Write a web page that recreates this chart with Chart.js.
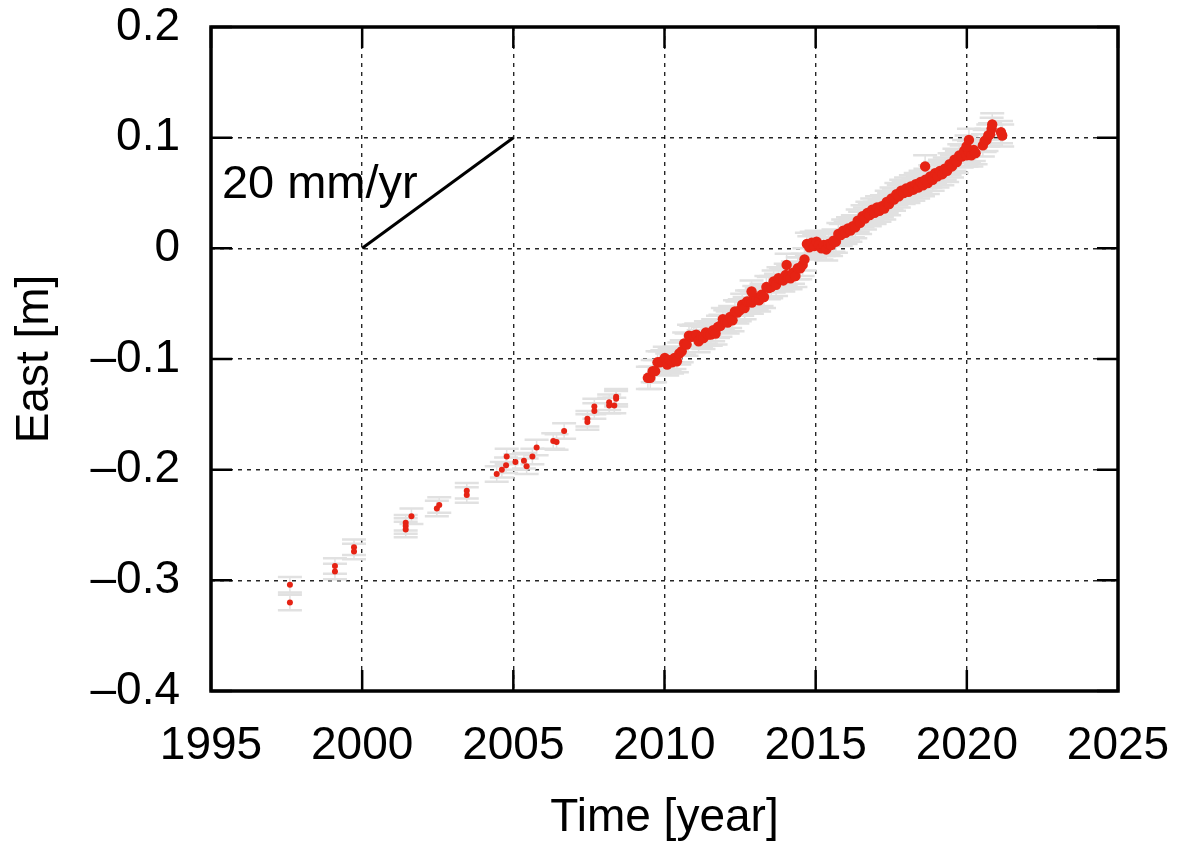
<!DOCTYPE html>
<html><head><meta charset="utf-8">
<script src="https://cdn.jsdelivr.net/npm/chart.js@4.4.0/dist/chart.umd.min.js"></script>
<style>html,body{margin:0;padding:0;background:#fff}#wrap{width:1189px;height:843px}</style>
</head><body><div id="wrap"><canvas id="c" width="1189" height="843"></canvas></div>
<script>
// ---------- data ----------
const xTickValues = [1995, 2000, 2005, 2010, 2015, 2020, 2025];
const yTickValues = [-0.4, -0.3, -0.2, -0.1, 0, 0.1, 0.2];

const sparseYears = [1997.61,1997.61,1999.10,1999.10,1999.73,1999.73,2001.44,2001.44,2001.44,2001.63,
  2002.47,2002.55,2003.46,2003.46,2004.45,2004.62,2004.76,2004.78,2005.07,2005.35,2005.44,2005.63,2005.77,
  2006.32,2006.43,2006.68,2007.45,2007.45,2007.68,2007.68,2008.17,2008.17,2008.34,2008.40,2008.40];
const sparseEast = [-0.304,-0.320,-0.287,-0.292,-0.270,-0.274,-0.248,-0.251,-0.254,-0.242,
  -0.235,-0.232,-0.219,-0.223,-0.204,-0.200,-0.196,-0.188,-0.193,-0.192,-0.197,-0.188,-0.180,
  -0.174,-0.175,-0.165,-0.154,-0.157,-0.143,-0.147,-0.139,-0.142,-0.142,-0.136,-0.134];

const denseYears = [
  2009.45,2009.53,2009.61,2009.69,2009.77,2009.85,2009.93,2010.01,2010.09,2010.17,
  2010.25,2010.33,2010.41,2010.49,2010.57,2010.65,2010.73,2010.81,2010.89,2010.97,
  2011.05,2011.13,2011.21,2011.29,2011.37,2011.45,2011.53,2011.61,2011.69,2011.77,
  2011.85,2011.93,2012.01,2012.09,2012.17,2012.25,2012.33,2012.41,2012.49,2012.57,
  2012.65,2012.73,2012.81,2012.89,2012.97,2013.05,2013.13,2013.21,2013.29,2013.37,
  2013.45,2013.53,2013.61,2013.69,2013.77,2013.85,2013.93,2014.01,2014.09,2014.17,
  2014.25,2014.33,2014.41,2014.49,2014.57,2014.63,2014.71,2014.79,2014.87,2014.95,
  2015.03,2015.11,2015.19,2015.27,2015.35,2015.43,2015.51,2015.59,2015.67,2015.75,
  2015.83,2015.91,2015.99,2016.07,2016.15,2016.23,2016.31,2016.39,2016.47,2016.55,
  2016.63,2016.71,2016.79,2016.87,2016.95,2017.03,2017.11,2017.19,2017.27,2017.35,
  2017.43,2017.51,2017.59,2017.67,2017.75,2017.83,2017.91,2017.99,2018.07,2018.15,
  2018.23,2018.31,2018.39,2018.47,2018.55,2018.63,2018.71,2018.79,2018.87,2018.95,
  2019.03,2019.11,2019.19,2019.27,2019.35,2019.43,2019.51,2019.59,2019.67,2019.75,
  2019.83,2019.91,2019.99,2020.07,2020.15,2020.23,2020.29,
  2020.53,2020.59,2020.65,2020.71,2020.77,2020.82,2021.13,2021.17,
  2012.88,2014.04,2018.62,2019.99,2020.07,2020.84];
const denseEast = [
  -0.117,-0.117,-0.111,-0.111,-0.103,-0.103,-0.102,-0.099,-0.105,-0.101,
  -0.103,-0.099,-0.102,-0.095,-0.093,-0.086,-0.087,-0.079,-0.080,-0.079,
  -0.078,-0.084,-0.080,-0.081,-0.076,-0.078,-0.078,-0.074,-0.077,-0.071,
  -0.070,-0.064,-0.066,-0.067,-0.062,-0.065,-0.057,-0.058,-0.056,-0.051,
  -0.054,-0.048,-0.048,-0.049,-0.044,-0.046,-0.047,-0.042,-0.044,-0.035,
  -0.036,-0.035,-0.030,-0.033,-0.027,-0.028,-0.029,-0.024,-0.026,-0.027,
  -0.022,-0.025,-0.018,-0.018,-0.015,-0.010,0.004,0.001,0.005,0.002,
  0.006,0.003,0.000,0.003,-0.001,0.004,0.003,0.007,0.006,0.013,
  0.012,0.016,0.014,0.018,0.016,0.020,0.019,0.025,0.023,0.029,
  0.027,0.032,0.030,0.035,0.032,0.037,0.034,0.038,0.036,0.042,
  0.040,0.045,0.044,0.049,0.047,0.052,0.050,0.054,0.051,0.056,
  0.053,0.058,0.055,0.060,0.057,0.062,0.059,0.065,0.062,0.068,
  0.065,0.070,0.067,0.072,0.070,0.076,0.074,0.080,0.078,0.084,
  0.083,0.088,0.084,0.087,0.084,0.089,0.086,
  0.093,0.097,0.098,0.102,0.103,0.108,0.105,0.102,
  -0.039,-0.015,0.074,0.092,0.098,0.112];
const sparseSigma = 0.007;         // half-length of the grey error bars [m]
const denseSigma = 0.010;

const rateLineYears = [2000, 2005];
const rateLineEast = [0, 0.1];
const rateLabel = '20 mm/yr';

// ---------- chart ----------
const FONT = "'Liberation Sans', Arial, Helvetica, sans-serif";
const toPts = (xs, ys) => xs.map((x, i) => ({x: x, y: ys[i]}));

const errorBars = {
  id: 'errorBars',
  beforeDatasetsDraw(chart) {
    const {ctx, scales: {x, y}} = chart;
    ctx.save();
    ctx.strokeStyle = '#e1e1e1';
    chart.data.datasets.forEach(ds => {
      if (!ds.sigma) return;
      ds.data.forEach(p => {
        const px = x.getPixelForValue(p.x);
        const top = y.getPixelForValue(p.y + ds.sigma);
        const bot = y.getPixelForValue(p.y - ds.sigma);
        ctx.lineWidth = 1.5;
        ctx.beginPath(); ctx.moveTo(px, top); ctx.lineTo(px, bot); ctx.stroke();
        ctx.lineWidth = 2.5;
        ctx.beginPath();
        ctx.moveTo(px - 12, top); ctx.lineTo(px + 12, top);
        ctx.moveTo(px - 12, bot); ctx.lineTo(px + 12, bot);
        ctx.stroke();
      });
    });
    ctx.restore();
  }
};

const frame = {
  id: 'frame',
  afterDraw(chart) {
    const {ctx, chartArea: a, scales: {x, y}} = chart;
    ctx.save();
    ctx.strokeStyle = '#000';
    ctx.lineWidth = 2.5;
    ctx.beginPath();
    xTickValues.forEach(v => {
      const px = x.getPixelForValue(v);
      ctx.moveTo(px, a.bottom); ctx.lineTo(px, a.bottom - 21);
      ctx.moveTo(px, a.top); ctx.lineTo(px, a.top + 21);
    });
    yTickValues.forEach(v => {
      const py = y.getPixelForValue(v);
      ctx.moveTo(a.left, py); ctx.lineTo(a.left + 21, py);
      ctx.moveTo(a.right, py); ctx.lineTo(a.right - 21, py);
    });
    ctx.stroke();
    ctx.lineWidth = 3.5;
    ctx.strokeRect(a.left, a.top, a.right - a.left, a.bottom - a.top);
    // rate label
    ctx.fillStyle = '#000';
    ctx.font = '47px ' + FONT;
    ctx.textAlign = 'left';
    ctx.textBaseline = 'alphabetic';
    ctx.fillText(rateLabel, x.getPixelForValue(1995.36), y.getPixelForValue(0.0455));
    ctx.restore();
  }
};

new Chart(document.getElementById('c'), {
  type: 'scatter',
  data: {
    datasets: [
      {
        label: 'rate', data: toPts(rateLineYears, rateLineEast), showLine: true,
        borderColor: '#000', borderWidth: 3, pointRadius: 0, order: 0
      },
      {
        label: 'East (sparse)', data: toPts(sparseYears, sparseEast), sigma: sparseSigma,
        backgroundColor: '#e62314', borderWidth: 0, pointRadius: 3, order: 1
      },
      {
        label: 'East', data: toPts(denseYears, denseEast), sigma: denseSigma,
        backgroundColor: '#e62314', borderWidth: 0, pointRadius: 5.2, order: 2
      }
    ]
  },
  options: {
    responsive: false, devicePixelRatio: 1, animation: false,
    layout: {padding: {top: 27, right: 71, bottom: 0, left: 0}},
    plugins: {legend: {display: false}, tooltip: {enabled: false}},
    scales: {
      x: {
        type: 'linear', min: 1995, max: 2025,
        afterBuildTicks: s => { s.ticks = xTickValues.map(v => ({value: v})); },
        afterFit: s => { s.height = 152; s.paddingLeft = 0; s.paddingRight = 0; },
        ticks: {color: '#000', font: {family: FONT, size: 46}, padding: 28, maxRotation: 0,
                callback: v => String(v)},
        grid: {color: 'rgba(0,0,0,0.85)', lineWidth: 1.4, drawTicks: false},
        border: {display: false, dash: [4, 5]},
        title: {display: true, text: 'Time [year]', color: '#000',
                font: {family: FONT, size: 46, lineHeight: 1}, padding: {top: 0, bottom: 2}}
      },
      y: {
        type: 'linear', min: -0.4, max: 0.2,
        afterBuildTicks: s => { s.ticks = yTickValues.map(v => ({value: v})); },
        afterFit: s => { s.width = 211; s.paddingTop = 0; s.paddingBottom = 0; },
        ticks: {color: '#000', font: {family: FONT, size: 46}, padding: 31,
                callback: v => Math.abs(v) < 1e-9 ? '0' : (v < 0 ? '\u2013' : '') + Math.abs(v).toFixed(1)},
        grid: {color: 'rgba(0,0,0,0.85)', lineWidth: 1.4, drawTicks: false},
        border: {display: false, dash: [4, 5]},
        title: {display: true, text: 'East [m]', color: '#000',
                font: {family: FONT, size: 46, lineHeight: 1}, padding: {top: 12, bottom: 0}}
      }
    }
  },
  plugins: [errorBars, frame]
});
</script></body></html>
